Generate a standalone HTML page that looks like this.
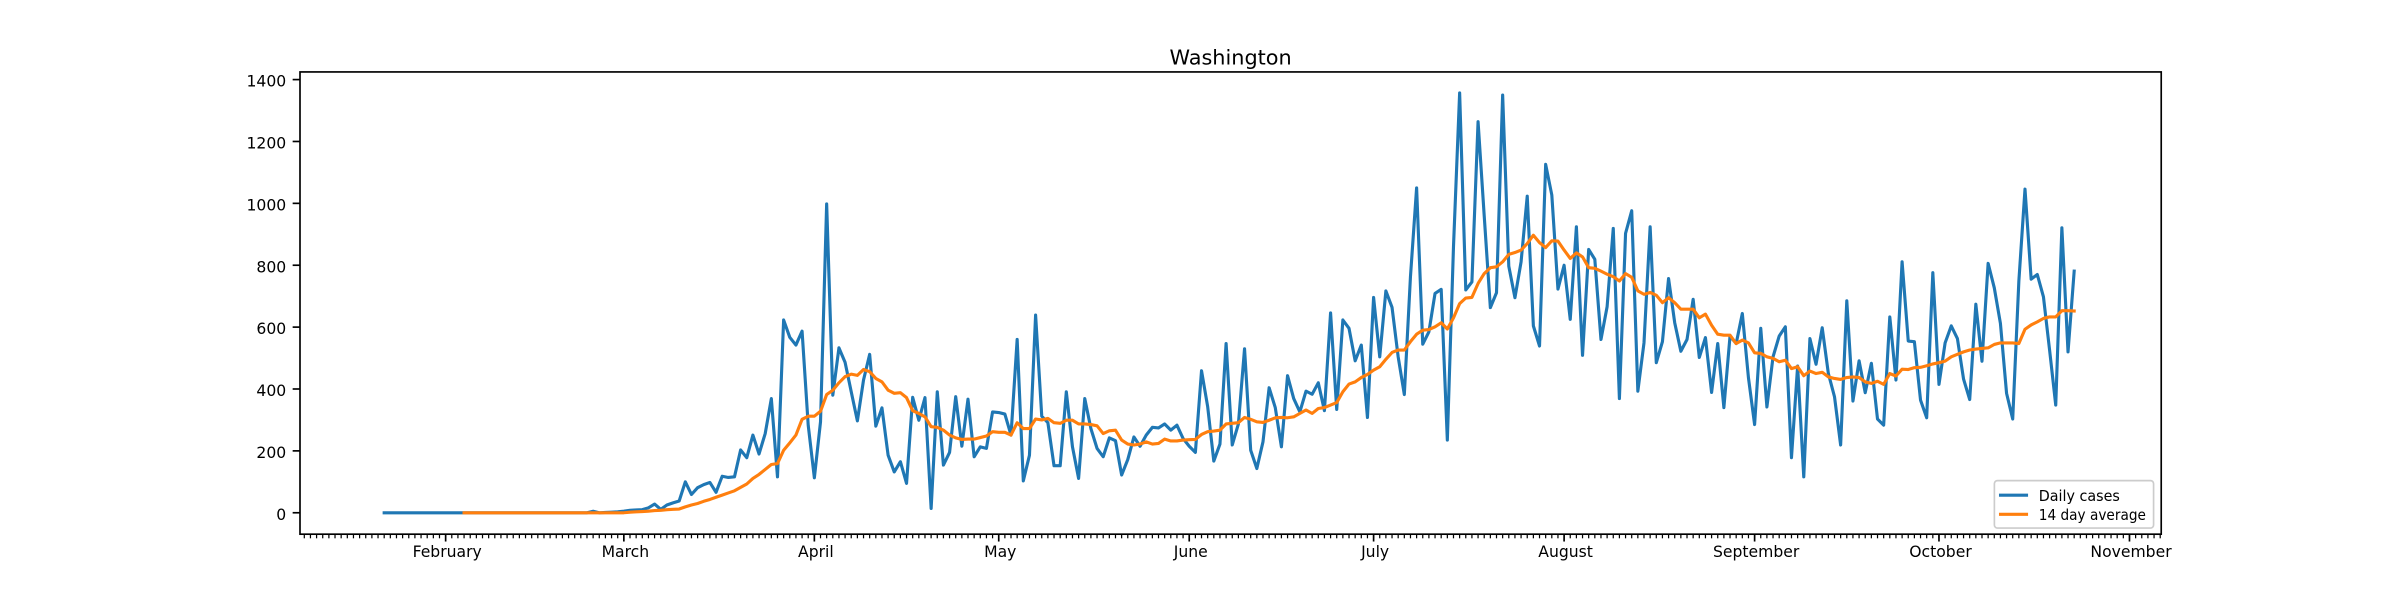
<!DOCTYPE html>
<html><head><meta charset="utf-8"><style>
html,body{margin:0;padding:0;background:#fff;}
svg{display:block;font-family:"DejaVu Sans","Liberation Sans",sans-serif;}
</style></head><body>
<svg id="chart" width="2400" height="600" viewBox="0 0 1568 392" xmlns="http://www.w3.org/2000/svg">
<rect width="1568" height="392" fill="#fff"/>
<text x="804" y="42" font-size="13.6" text-anchor="middle" fill="#000">Washington</text>
<g id="grid"></g>
<g id="series"></g>
<rect x="196" y="47" width="1216" height="302" fill="none" stroke="#000" stroke-width="1.09"/>
<g id="axes"></g>
<g>
<rect x="1303" y="314" width="104" height="31" rx="2" fill="#fff" fill-opacity="0.8" stroke="#ccc" stroke-width="1.09"/>
<line x1="1306" y1="323.5" x2="1325" y2="323.5" stroke="#1f77b4" stroke-width="2.04"/>
<text x="1332" y="327.3" font-size="9.8" textLength="53" lengthAdjust="spacingAndGlyphs" fill="#000">Daily cases</text>
<line x1="1306" y1="336" x2="1325" y2="336" stroke="#ff7f0e" stroke-width="2.04"/>
<text x="1332" y="339.8" font-size="9.8" textLength="70" lengthAdjust="spacingAndGlyphs" fill="#000">14 day average</text>
</g>
</svg>
<script>
const monthLabels = ["February","March","April","May","June","July","August","September","October","November"];
const monthDays = [10,39,70,100,131,161,192,223,253,284];
const yTicks = [0,200,400,600,800,1000,1200,1400];
const daily = [0,0,0,0,0,0,0,0,0,0,0,0,0,0,0,0,0,0,0,0,0,0,0,0,0,0,0,0,0,0,0,0,0,0,
5,0,1,2,3,5,8,9,10,16,28,11,25,32,38,100,59,81,91,98,66,118,114,116,203,178,251,190,256,369,116,623,567,542,587,283,113,294,998,380,533,486,391,297,429,512,280,
339,186,132,165,95,373,299,372,14,391,154,195,375,215,367,181,213,208,326,324,319,251,560,103,186,639,312,291,152,152,391,213,111,369,272,208,181,242,233,122,172,245,215,251,276,274,287,267,283,
240,215,195,459,343,167,222,547,219,287,530,202,143,229,404,340,213,443,369,326,393,383,420,330,646,334,623,596,491,542,308,696,504,717,664,504,382,763,1050,545,585,709,722,235,860,1357,720,746,1264,960,
663,711,1350,797,695,811,1023,604,539,1126,1027,723,800,625,924,509,851,819,560,666,919,369,903,976,393,549,924,485,553,757,614,522,560,690,502,566,389,547,340,571,547,644,436,285,596,342,504,571,
601,178,474,116,563,480,598,450,375,219,685,361,491,388,483,303,283,633,429,811,555,553,364,307,776,415,549,604,563,432,366,674,490,806,727,612,386,303,749,1046,755,770,698,526,348,921,520,781];
const avg = [null,null,null,null,null,null,null,null,null,null,null,null,null,
0,0,0,0,0,0,0,0,0,0,0,0,0,0,0,0,0,0,0,0,0,0,0,0,0,0,0,
2,3,4,5,7,8,10,11,12,19,25,30,37,43,50,57,64,71,82,93,111,124,140,156,159,202,226,251,302,312,312,328,382,396,420,440,448,444,463,456,434,
423,396,386,388,372,330,321,310,278,276,267,251,242,237,238,238,243,248,262,260,260,251,291,272,272,303,300,305,291,289,299,299,287,287,285,281,256,265,267,235,222,219,222,229,222,224,238,232,232,
235,236,237,253,262,264,267,287,289,291,308,302,294,292,299,307,308,307,310,321,332,321,337,340,348,356,391,416,423,437,447,461,472,496,518,526,526,553,577,590,592,601,614,594,630,676,694,696,741,773,
792,795,811,835,841,849,870,897,873,857,879,878,849,822,840,827,792,790,781,771,763,749,773,761,717,706,712,703,679,695,679,658,658,658,630,642,606,577,574,574,547,558,549,517,515,504,499,488,
493,466,472,443,458,450,454,439,434,431,437,439,437,423,418,425,415,450,442,464,463,469,470,475,481,485,490,504,512,520,526,529,531,533,544,549,549,549,547,593,607,617,628,633,633,653,653,652];

const NS = "http://www.w3.org/2000/svg";
const X0 = 251, PXD = 4.015, Y0 = 335, PXV = 283/1400;
function xs(d){ return X0 + d*PXD; }
function ys(v){ return Y0 - v*PXV; }
function mk(tag, attrs, parent){ const e = document.createElementNS(NS, tag); for (const k in attrs) e.setAttribute(k, attrs[k]); parent.appendChild(e); return e; }

const axes = document.getElementById('axes');
const series = document.getElementById('series');

yTicks.forEach(v => {
  const y = ys(v);
  const t = mk('line', {x1:196, x2:191.2, y1:y, y2:y, stroke:'#000', 'stroke-width':1.09}, axes);
  
  
  const l = mk('text', {x:187, y:y+4.6, 'font-size':10.2, 'text-anchor':'end', fill:'#000'}, axes);
  l.textContent = String(v);
  
  
});
for (let d = -13; d <= 290; d++) {
  const x = xs(d);
  if (x < 196 || x > 1412) continue;
  const m = mk('line', {x1:x, x2:x, y1:349, y2:351.7, stroke:'#000', 'stroke-width':0.8}, axes);
  
  
}
monthDays.forEach((d, i) => {
  const x = xs(d);
  const t = mk('line', {x1:x, x2:x, y1:349, y2:353.8, stroke:'#000', 'stroke-width':1.09}, axes);
  
  
  const l = mk('text', {x:x+1, y:364, 'font-size':10.2, 'text-anchor':'middle', fill:'#000'}, axes);
  l.textContent = monthLabels[i];
  
  
});

function pathFor(arr){
  let p = '', started = false;
  arr.forEach((v, d) => {
    if (v === null) { started = false; return; }
    p += (started ? 'L' : 'M') + xs(d).toFixed(2) + ',' + ys(v).toFixed(2);
    started = true;
  });
  return p;
}
const dl = mk('path', {d:pathFor(daily), fill:'none', stroke:'#1f77b4', 'stroke-width':2.04, 'stroke-linejoin':'round', 'stroke-linecap':'square'}, series);


const al = mk('path', {d:pathFor(avg), fill:'none', stroke:'#ff7f0e', 'stroke-width':2.04, 'stroke-linejoin':'round', 'stroke-linecap':'square'}, series);


</script>
</body></html>
